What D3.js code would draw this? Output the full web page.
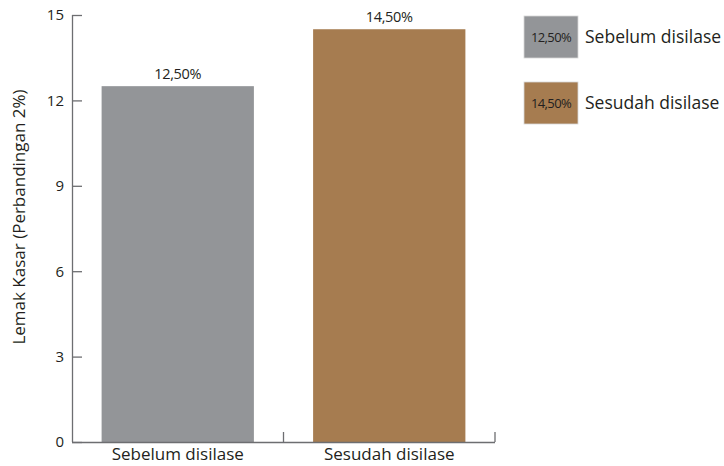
<!DOCTYPE html>
<html><head><meta charset="utf-8">
<script src="https://cdn.jsdelivr.net/npm/d3@7"></script>
<style>body{margin:0;background:#fff;} svg{display:block;font-family:"Open Sans",sans-serif;}</style>
</head><body><svg id="c" width="724" height="466"></svg>
<script>
const categories = ["Sebelum disilase", "Sesudah disilase"];
const values = [12.5, 14.5];
const valueLabels = ["12,50%", "14,50%"];
const colors = ["#939598", "#a67c50"];
const yTicks = [0, 3, 6, 9, 12, 15];
const yTitle = "Lemak Kasar (Perbandingan 2%)";

const svg = d3.select("#c");
const x0 = 72, x1 = 495, yBase = 442, yTop = 15;
const x = d3.scaleBand().domain(categories).range([x0, x1]).paddingInner(0.28).paddingOuter(0.14);
const y = d3.scaleLinear().domain([0, 15]).range([yBase, yTop]);
const ink = "#231f20";

// bars
svg.selectAll("rect.bar").data(values).join("rect").attr("class", "bar")
  .attr("x", (d, i) => x(categories[i])).attr("width", x.bandwidth())
  .attr("y", d => y(d)).attr("height", d => y(0) - y(d))
  .attr("fill", (d, i) => colors[i]);

svg.selectAll("text.val").data(values).join("text").attr("class", "val")
  .attr("x", (d, i) => x(categories[i]) + x.bandwidth() / 2).attr("y", d => y(d) - 7)
  .attr("text-anchor", "middle").attr("font-size", 14.5).attr("letter-spacing", -0.3).attr("fill", ink)
  .text((d, i) => valueLabels[i]);

// y axis
const yAxis = svg.append("g").attr("transform", `translate(${x0},0)`)
  .call(d3.axisRight(y).tickValues(yTicks).tickSize(10).tickFormat(""));
yAxis.select(".domain").attr("d", `M0.5,${yTop}V${yBase}`).attr("stroke", "#6d6e71").attr("stroke-width", 1.3);
yAxis.selectAll(".tick line").attr("stroke", "#6d6e71").attr("stroke-width", 1.3).attr("x1", 0);
svg.selectAll("text.yt").data(yTicks).join("text").attr("class", "yt")
  .attr("x", 64).attr("y", d => y(d)).attr("dy", "0.36em").attr("text-anchor", "end")
  .attr("font-size", 15).attr("fill", ink).text(d => d);

// x axis
svg.append("line").attr("x1", x0).attr("x2", x1).attr("y1", yBase + 0.5).attr("y2", yBase + 0.5)
  .attr("stroke", "#6d6e71").attr("stroke-width", 1.3);
const step = x.step();
const bounds = categories.map((c, i) => x0 + step * (i + 1));
svg.selectAll("line.xt").data(bounds).join("line").attr("class", "xt")
  .attr("x1", d => d).attr("x2", d => d).attr("y1", yBase).attr("y2", yBase - 10)
  .attr("stroke", "#6d6e71").attr("stroke-width", 1.3);
svg.selectAll("text.xl").data(categories).join("text").attr("class", "xl")
  .attr("x", d => x(d) + x.bandwidth() / 2).attr("y", 460)
  .attr("text-anchor", "middle").attr("font-size", 17).attr("fill", ink).text(d => d);

// y title
svg.append("text").attr("transform", "translate(25,217) rotate(-90)")
  .attr("text-anchor", "middle").attr("font-size", 17).attr("fill", ink).text(yTitle);

// legend
const lg = svg.selectAll("g.lg").data(categories).join("g").attr("class", "lg")
  .attr("transform", (d, i) => `translate(524,${16 + i * 66})`);
lg.append("rect").attr("width", 54).attr("height", 42)
  .attr("fill", (d, i) => colors[i]).attr("stroke", "#d8d8d8").attr("stroke-width", 0.8);
lg.append("text").attr("x", 27).attr("y", 21).attr("dy", "0.36em").attr("text-anchor", "middle")
  .attr("font-size", 13).attr("letter-spacing", -0.6).attr("fill", ink).text((d, i) => valueLabels[i]);
lg.append("text").attr("x", 61).attr("y", 21).attr("dy", "0.36em")
  .attr("font-size", 17.5).attr("fill", ink).text(d => d);
</script></body></html>
